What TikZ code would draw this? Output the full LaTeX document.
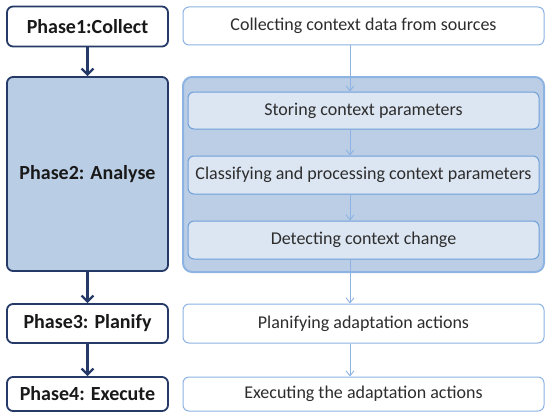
\documentclass[tikz,border=0pt]{standalone}
\usepackage{fontspec}
\setmainfont{Carlito}
\usetikzlibrary{arrows.meta}
\begin{document}
\begin{tikzpicture}[x=1pt,y=-1pt,
	phase/.style={draw=phaseline, line width=1.8pt, rounded corners=6pt, fill=white,
		minimum width=161pt, inner sep=0pt, text=phasetext,
		font=\fontsize{20}{22}\selectfont\bfseries},
	task/.style={draw=taskline, line width=1pt, rounded corners=6pt, fill=white,
		minimum width=361pt, inner sep=0pt, text=tasktext,
		font=\fontsize{18}{20}\selectfont},
	subtask/.style={task, draw=subline, fill=subfill, minimum width=351pt},
	phasearrow/.style={draw=phaseline, line width=2.2pt, -{Straight Barb[length=6pt,width=12pt]}},
	taskarrow/.style={draw=taskline, line width=0.9pt, -{Straight Barb[length=5pt,width=8pt]}}]

	% Define colors
	\definecolor{phaseline}{RGB}{38,58,104}
	\definecolor{phasetext}{RGB}{25,25,25}
	\definecolor{phasefill}{RGB}{185,205,229}
	\definecolor{taskline}{RGB}{141,179,226}
	\definecolor{tasktext}{RGB}{45,45,45}
	\definecolor{boxfill}{RGB}{187,206,230}
	\definecolor{subline}{RGB}{111,159,216}
	\definecolor{subfill}{RGB}{220,230,242}

	% Fix the picture size
	\useasboundingbox (0,0) rectangle (548,412);

	% Draw the phases
	\node[phase, minimum height=40pt] (collect) at (87.5,26.5) {Phase1:Collect};
	\node[phase, fill=phasefill, minimum height=194pt] (analyse) at (87.5,174) {Phase2: Analyse};
	\node[phase, minimum height=39pt] (planify) at (87.5,323.5) {Phase3: Planify};
	\node[phase, minimum height=34pt] (execute) at (87.5,394) {Phase4: Execute};

	% Draw the tasks
	\node[task, minimum height=38pt] (sources) at (363.5,26) {Collecting context data from sources};
	\node[task, draw=taskline, fill=boxfill, line width=2pt, rounded corners=9pt,
		minimum height=195pt] (analysis) at (363.5,174.5) {};
	\node[subtask, minimum height=37pt] (storing) at (363.5,110.5) {Storing context parameters};
	\node[subtask, minimum height=38pt] (classify) at (363.5,175) {Classifying and processing context parameters};
	\node[subtask, minimum height=38pt] (detect) at (363.5,240) {Detecting context change};
	\node[task, minimum height=39pt] (plan) at (363.5,323.5) {Planifying adaptation actions};
	\node[task, minimum height=34pt] (exec) at (363.5,394) {Executing the adaptation actions};

	% Draw the arrows between phases
	\draw[phasearrow] (collect) -- (analyse);
	\draw[phasearrow] (analyse) -- (planify);
	\draw[phasearrow] (planify) -- (execute);

	% Draw the arrows between tasks
	\coordinate (line) at (350,0);
	\draw[taskarrow] (sources.south -| line) -- (storing.north -| line);
	\draw[taskarrow] (storing.south -| line) -- (classify.north -| line);
	\draw[taskarrow] (classify.south -| line) -- (detect.north -| line);
	\draw[taskarrow] (detect.south -| line) -- (plan.north -| line);
	\draw[taskarrow] (plan.south -| line) -- (exec.north -| line);

\end{tikzpicture}
\end{document}
